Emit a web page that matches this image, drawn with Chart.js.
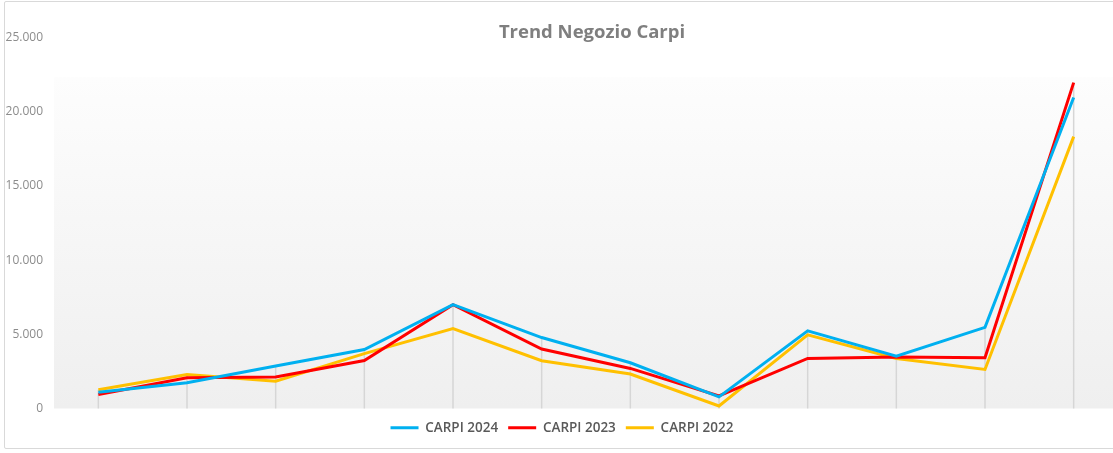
<!DOCTYPE html>
<html>
<head>
<meta charset="utf-8">
<script src="https://cdn.jsdelivr.net/npm/chart.js@4.4.1/dist/chart.umd.min.js"></script>
<style>
  html, body { margin: 0; padding: 0; background: #fff; overflow: hidden; }
  #frame { position: absolute; left: 4px; top: 1px; width: 1200px; height: 446px;
           border: 1.5px solid #d9d9d9; border-radius: 2px; background: #fff; }
  #wrap { position: absolute; left: 0; top: 0; width: 1122px; height: 453px; }
  #title { position: absolute; left: 0; top: 21.5px; width: 1184px; text-align: center;
           font: bold 18.5px/18.5px "Open Sans", sans-serif; color: #7f7f7f; }
</style>
</head>
<body>
<div id="frame"></div>
<div id="wrap"><canvas id="trendChart"></canvas></div>
<div id="title">Trend Negozio Carpi</div>
<script>
// categories (not shown on the axis in the original)
const months = ["Gen", "Feb", "Mar", "Apr", "Mag", "Giu", "Lug", "Ago", "Set", "Ott", "Nov", "Dic"];

// series values
const carpi2024 = [1100, 1730, 2860, 3970, 7000, 4780, 3080, 780, 5230, 3530, 5470, 20960];
const carpi2023 = [950, 2070, 2130, 3230, 7000, 4010, 2700, 850, 3370, 3470, 3420, 21960];
const carpi2022 = [1260, 2290, 1840, 3700, 5390, 3220, 2320, 170, 4960, 3370, 2630, 18320];

const seriesLabels = ["CARPI 2024", "CARPI 2023", "CARPI 2022"];
const seriesColors = ["#00b0f0", "#ff0000", "#ffc000"];

// y axis ticks
const yTicks = [0, 5000, 10000, 15000, 20000, 25000];

function formatThousands(v) {
    return String(v).replace(/\B(?=(\d{3})+(?!\d))/g, ".");
}

// gradient fill of the plot area
const plotBackground = {
    id: "plotBackground",
    beforeDraw(chart) {
        const { ctx, chartArea } = chart;
        const top = chartArea.top + chartArea.height * 0.107;
        const grad = ctx.createLinearGradient(0, top, 0, chartArea.bottom);
        grad.addColorStop(0, "#fdfdfd");
        grad.addColorStop(1, "#efefef");
        ctx.save();
        ctx.fillStyle = grad;
        ctx.fillRect(chartArea.left, top, chartArea.width + 10, chartArea.bottom - top);
        ctx.restore();
    },
};

// drop lines from the highest point down to the axis
const dropLines = {
    id: "dropLines",
    beforeDatasetsDraw(chart) {
        const { ctx, chartArea, scales } = chart;
        ctx.save();
        ctx.strokeStyle = "#d6d6d6";
        ctx.lineWidth = 1.5;
        months.forEach((m, i) => {
            const top = Math.max(...chart.data.datasets.map(d => d.data[i]));
            const x = scales.x.getPixelForValue(i);
            ctx.beginPath();
            ctx.moveTo(x, scales.y.getPixelForValue(top));
            ctx.lineTo(x, chartArea.bottom);
            ctx.stroke();
        });
        ctx.restore();
    },
};

const datasets = [carpi2024, carpi2023, carpi2022].map((values, i) => ({
    label: seriesLabels[i],
    data: values,
    borderColor: seriesColors[i],
    backgroundColor: seriesColors[i],
    borderWidth: 3,
    pointRadius: 0,
    tension: 0,
}));

function drawChart() {
    new Chart(document.getElementById("trendChart"), {
        type: "line",
        data: { labels: months, datasets: datasets },
        plugins: [plotBackground, dropLines],
        options: {
            responsive: true,
            maintainAspectRatio: false,
            animation: false,
            layout: { padding: { left: 6, right: 4, top: 37.5, bottom: 8.5 } },
            plugins: {
                title: { display: false },
                legend: {
                    position: "bottom",
                    labels: {
                        color: "#595959",
                        font: { family: "'Open Sans', sans-serif", size: 13.5, weight: "600" },
                        usePointStyle: true,
                        pointStyle: "line",
                        pointStyleWidth: 28,
                        boxHeight: 10,
                        padding: 10,
                    },
                },
                tooltip: { enabled: false },
            },
            scales: {
                x: {
                    type: "category",
                    offset: true,
                    grid: { display: false, drawTicks: false },
                    border: { display: false },
                    ticks: { display: false },
                    afterFit(scale) { scale.height = 2.5; },
                },
                y: {
                    min: 0,
                    max: 25000,
                    afterBuildTicks(scale) {
                        scale.ticks = yTicks.map(v => ({ value: v }));
                    },
                    afterFit(scale) { scale.width = 48; },
                    grid: { display: false, drawTicks: false },
                    border: { display: false },
                    ticks: {
                        color: "#8c8c8c",
                        padding: 11,
                        crossAlign: "near",
                        font: { family: "'Open Sans', sans-serif", size: 12 },
                        callback: v => formatThousands(v),
                    },
                },
            },
        },
    });
}

Promise.all([
    document.fonts.load('12px "Open Sans"'),
    document.fonts.load('600 13.5px "Open Sans"'),
    document.fonts.load('bold 18.5px "Open Sans"'),
]).then(drawChart, drawChart);
</script>
</body>
</html>
